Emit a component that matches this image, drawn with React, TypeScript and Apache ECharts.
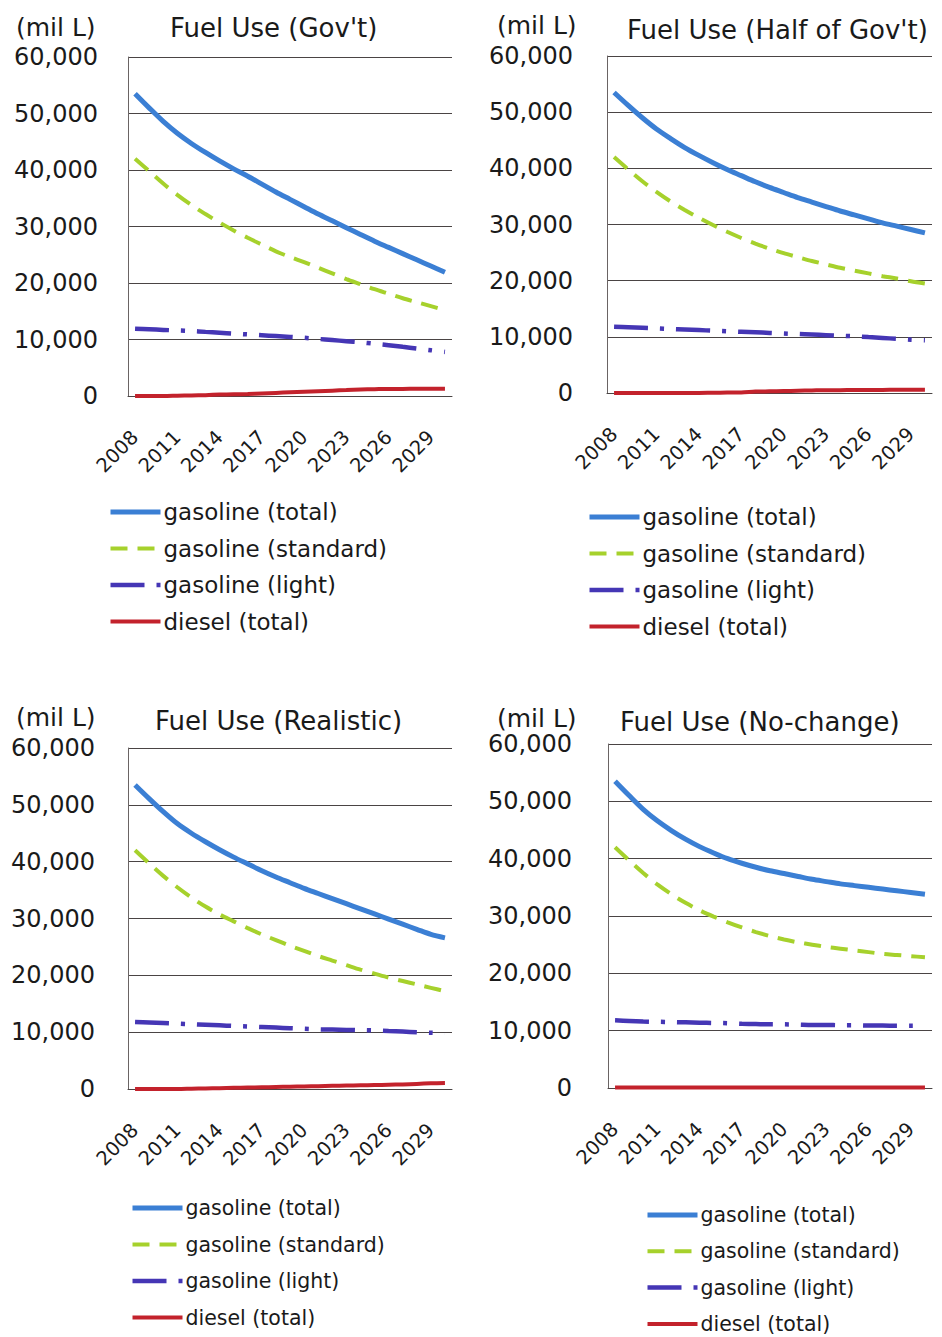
import React, { useEffect, useRef } from "react";
import * as echarts from "echarts";

const years = ["2008","2009","2010","2011","2012","2013","2014","2015","2016","2017","2018","2019","2020","2021","2022","2023","2024","2025","2026","2027","2028","2029","2030"];
const seriesNames = ["gasoline (total)", "gasoline (standard)", "gasoline (light)", "diesel (total)"];
const panelTitles = ["Fuel Use (Gov't)", "Fuel Use (Half of Gov't)", "Fuel Use (Realistic)", "Fuel Use (No-change)"];
const unitLabel = "(mil L)";

// Gov't scenario
const govTotal = [53500, 51000, 48600, 46500, 44700, 43100, 41600, 40200, 38900, 37500, 36100, 34800, 33500, 32200, 31000, 29800, 28600, 27400, 26300, 25200, 24100, 23000, 21900];
const govStandard = [42000, 39800, 37600, 35600, 33800, 32200, 30700, 29300, 28000, 26800, 25600, 24600, 23700, 22700, 21700, 20700, 19800, 18900, 18100, 17300, 16600, 15900, 15200];
const govLight = [11900, 11800, 11700, 11600, 11500, 11350, 11200, 11050, 10900, 10750, 10600, 10450, 10300, 10100, 9900, 9700, 9500, 9250, 9000, 8700, 8400, 8100, 7800];
const govDiesel = [0, 0, 0, 50, 100, 150, 250, 300, 350, 450, 550, 650, 750, 850, 950, 1050, 1150, 1200, 1250, 1250, 1300, 1300, 1300];

// Half of Gov't scenario
const halfTotal = [53500, 51200, 49000, 47000, 45300, 43700, 42300, 41000, 39800, 38700, 37600, 36600, 35700, 34800, 34000, 33200, 32400, 31700, 31000, 30300, 29700, 29100, 28500];
const halfStandard = [42000, 39800, 37700, 35800, 34100, 32600, 31200, 29900, 28700, 27600, 26600, 25700, 24900, 24200, 23500, 22900, 22300, 21800, 21300, 20800, 20400, 19900, 19500];
const halfLight = [11800, 11700, 11600, 11500, 11400, 11300, 11200, 11100, 11000, 10900, 10800, 10700, 10600, 10500, 10400, 10300, 10200, 10100, 9950, 9800, 9650, 9500, 9400];
const halfDiesel = [0, 0, 0, 0, 0, 0, 0, 50, 80, 100, 250, 300, 350, 400, 450, 500, 500, 550, 550, 550, 600, 600, 600];

// Realistic scenario
const realTotal = [53500, 51100, 48800, 46700, 45000, 43500, 42100, 40800, 39600, 38400, 37300, 36300, 35300, 34400, 33500, 32600, 31700, 30800, 29900, 29000, 28100, 27200, 26600];
const realStandard = [42000, 39700, 37500, 35500, 33700, 32100, 30700, 29500, 28300, 27200, 26200, 25200, 24300, 23400, 22600, 21800, 21000, 20300, 19600, 19000, 18400, 17800, 17200];
const realLight = [11800, 11700, 11600, 11500, 11400, 11300, 11200, 11100, 11000, 10900, 10800, 10700, 10600, 10500, 10450, 10400, 10350, 10300, 10200, 10100, 10000, 9900, 9800];
const realDiesel = [0, 0, 0, 0, 50, 100, 150, 200, 250, 300, 350, 400, 450, 500, 550, 600, 650, 700, 750, 800, 900, 1000, 1050];

// No-change scenario
const noTotal = [53500, 51000, 48600, 46600, 44900, 43400, 42100, 41000, 40000, 39200, 38500, 37900, 37400, 36900, 36400, 36000, 35600, 35300, 35000, 34700, 34400, 34100, 33800];
const noStandard = [42000, 39700, 37500, 35500, 33800, 32300, 31000, 29900, 28900, 28000, 27200, 26500, 25900, 25400, 25000, 24600, 24300, 24000, 23700, 23400, 23200, 23000, 22800];
const noLight = [11800, 11700, 11600, 11550, 11500, 11450, 11400, 11350, 11300, 11200, 11150, 11100, 11100, 11050, 11000, 11000, 10950, 10950, 10900, 10900, 10850, 10850, 10850];
const noDiesel = [100, 100, 100, 100, 100, 100, 100, 100, 100, 100, 100, 100, 100, 100, 100, 100, 100, 100, 100, 100, 100, 100, 100];

const panelData = [
  [govTotal, govStandard, govLight, govDiesel],
  [halfTotal, halfStandard, halfLight, halfDiesel],
  [realTotal, realStandard, realLight, realDiesel],
  [noTotal, noStandard, noLight, noDiesel],
];

// layout (pixels)
const grids = [
  { left: 128, top: 57, width: 324, height: 339 },
  { left: 607, top: 56, width: 325, height: 337 },
  { left: 128, top: 748, width: 324, height: 341 },
  { left: 608, top: 744, width: 324, height: 344 },
];
const titlePos = [
  { left: 170, top: 13 },
  { left: 627, top: 15 },
  { left: 155, top: 706 },
  { left: 620, top: 707 },
];
const unitPos = [
  { left: 16, top: 14 },
  { left: 497, top: 12 },
  { left: 16, top: 704 },
  { left: 497, top: 705 },
];
const yLabelMargin = [30, 34, 33, 36];
const legendPos = [
  { left: 108, top: 500, fontSize: 23, gap: 12.5 },
  { left: 587, top: 505, fontSize: 23, gap: 12.5 },
  { left: 130, top: 1196, fontSize: 20.5, gap: 12.5 },
  { left: 645, top: 1203, fontSize: 20.5, gap: 12.3 },
];

const seriesStyles = [
  { color: "#3b7fd4", width: 5, type: "solid" as any },
  { color: "#a6d12c", width: 4, type: [17, 10] as any },
  { color: "#4536b5", width: 4.5, type: [34, 12, 4, 12] as any },
  { color: "#c3222c", width: 4, type: "solid" as any },
];

const FONT = "'DejaVu Sans', 'Noto Sans', sans-serif";

export default function App() {
  const ref = useRef<HTMLDivElement>(null);
  useEffect(() => {
    if (!ref.current) return;
    const chart = echarts.init(ref.current, null, { renderer: "svg" });
    const title: any[] = [];
    const legend: any[] = [];
    const xAxis: any[] = [];
    const yAxis: any[] = [];
    const series: any[] = [];
    grids.forEach((g, p) => {
      title.push({
        text: panelTitles[p],
        left: titlePos[p].left,
        top: titlePos[p].top,
        padding: 0,
        textStyle: { fontFamily: FONT, fontSize: 26, fontWeight: "normal", color: "#1a1a1a", lineHeight: 30 },
      });
      title.push({
        text: unitLabel,
        left: unitPos[p].left,
        top: unitPos[p].top,
        padding: 0,
        textStyle: { fontFamily: FONT, fontSize: 25, fontWeight: "normal", color: "#1a1a1a", lineHeight: 26 },
      });
      legend.push({
        orient: "vertical",
        left: legendPos[p].left,
        top: legendPos[p].top,
        padding: 0,
        itemWidth: 50,
        itemHeight: 14,
        itemGap: legendPos[p].gap,
        selectedMode: false,
        itemStyle: { opacity: 0, borderWidth: 0 },
        lineStyle: { width: "inherit", type: "inherit", cap: "butt" },
        data: seriesNames,
        textStyle: { fontFamily: FONT, fontSize: legendPos[p].fontSize, color: "#1a1a1a", lineHeight: 24, padding: [0, 0, 0, -2] },
      });
      xAxis.push({
        type: "category",
        gridIndex: p,
        data: years,
        boundaryGap: true,
        axisLine: { show: true, lineStyle: { color: "#4a4444", width: 1 } },
        axisTick: { show: false },
        axisLabel: {
          interval: 2,
          rotate: 45,
          margin: 38,
          fontFamily: FONT,
          fontSize: 19.5,
          color: "#1a1a1a",
        },
      });
      yAxis.push({
        type: "value",
        gridIndex: p,
        min: 0,
        max: 60000,
        interval: 10000,
        axisLine: { show: true, lineStyle: { color: "#6a6464", width: 1 } },
        axisTick: { show: false },
        splitLine: { show: true, lineStyle: { color: "#4a4444", width: 1 } },
        axisLabel: {
          margin: yLabelMargin[p],
          fontFamily: FONT,
          fontSize: 24,
          color: "#1a1a1a",
        },
      });
      panelData[p].forEach((vals, s) => {
        series.push({
          type: "line",
          name: seriesNames[s],
          xAxisIndex: p,
          yAxisIndex: p,
          data: vals,
          symbol: "none",
          smooth: 0.3,
          color: seriesStyles[s].color,
          lineStyle: {
            color: seriesStyles[s].color,
            width: seriesStyles[s].width,
            type: seriesStyles[s].type,
            cap: "butt",
          },
          z: 10 - s,
        });
      });
    });
    chart.setOption({
      animation: false,
      backgroundColor: "#ffffff",
      textStyle: { fontFamily: FONT },
      grid: grids.map((g) => ({ ...g, containLabel: false })),
      title,
      legend,
      xAxis,
      yAxis,
      series,
    });
    return () => chart.dispose();
  }, []);
  return (
    <div
      ref={ref}
      style={{ position: "absolute", left: 0, top: 0, width: 942, height: 1337 }}
    />
  );
}
